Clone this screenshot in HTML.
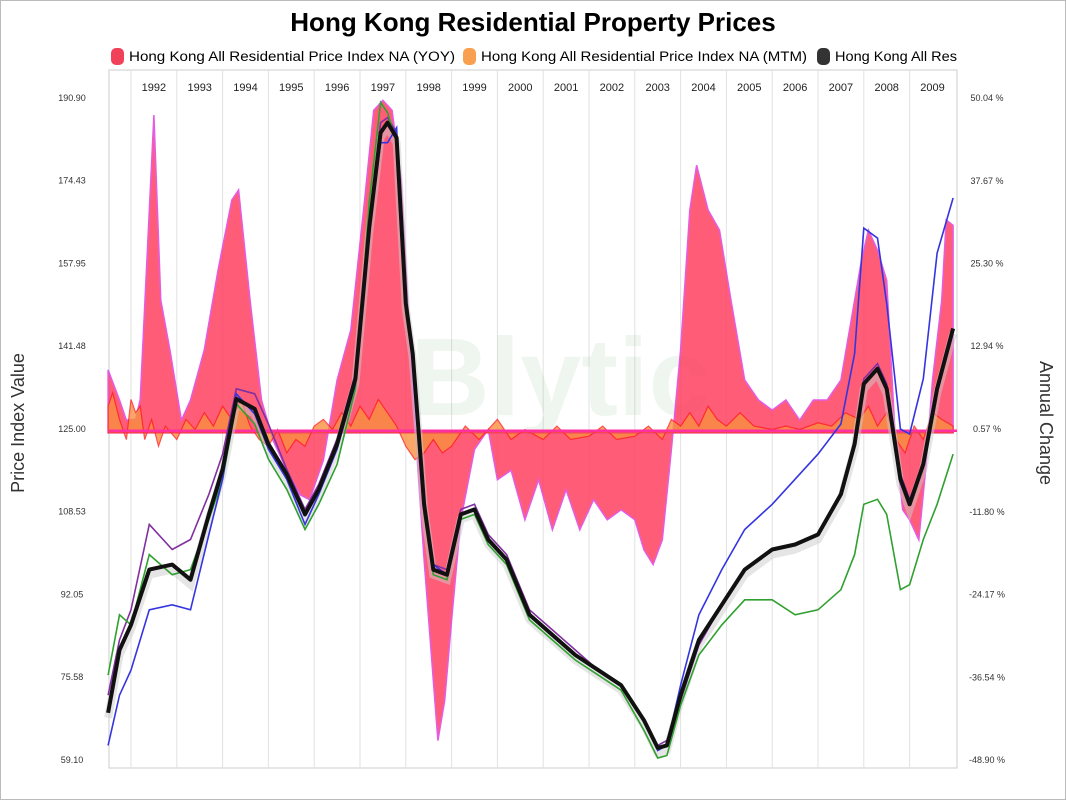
<!DOCTYPE html>
<html><head><meta charset="utf-8"><style>
body{margin:0;background:#fff;}
svg{display:block;font-family:"Liberation Sans",sans-serif;}
</style></head><body>
<svg id="chart" width="1066" height="800" viewBox="0 0 1066 800">
<rect x="0.5" y="0.5" width="1065" height="799" fill="#fff" stroke="#bbb"/>
<text x="533" y="31" text-anchor="middle" font-size="26" font-weight="bold">Hong Kong Residential Property Prices</text>
<g font-size="13.5">
 <g><rect x="111" y="48" width="13" height="17" rx="5" fill="#f0405a"/><text x="129" y="61" textLength="326" lengthAdjust="spacingAndGlyphs">Hong Kong All Residential Price Index NA (YOY)</text></g>
 <g><rect x="463" y="48" width="13" height="17" rx="5" fill="#f8a050"/><text x="481" y="61" textLength="326" lengthAdjust="spacingAndGlyphs">Hong Kong All Residential Price Index NA (MTM)</text></g>
 <g><rect x="817" y="48" width="13" height="17" rx="5" fill="#333"/><text x="835" y="61" textLength="122" lengthAdjust="spacingAndGlyphs">Hong Kong All Res</text></g>
</g>
<text transform="translate(24,423) rotate(-90)" text-anchor="middle" font-size="18" fill="#333">Price Index Value</text>
<text transform="translate(1040,423) rotate(90)" text-anchor="middle" font-size="18" fill="#333">Annual Change</text>
<g id="plot"></g>
</svg>
<script>
const years=[1991.5,1991.75,1992.0,1992.4,1992.9,1993.3,1993.7,1994.0,1994.3,1994.7,1995.0,1995.4,1995.8,1996.1,1996.5,1996.9,1997.2,1997.45,1997.6,1997.8,1998.0,1998.15,1998.4,1998.6,1998.9,1999.2,1999.5,1999.8,2000.2,2000.7,2001.2,2001.7,2002.2,2002.7,2003.2,2003.5,2003.7,2004.0,2004.4,2004.9,2005.4,2006.0,2006.5,2007.0,2007.5,2007.8,2008.0,2008.3,2008.5,2008.8,2009.0,2009.3,2009.6,2009.95];
const indexAll=[68.5,81,86,97,98,95,108,117,131,129,122,116,108,113,122,135,165,184,186,183,150,140,110,97,96,108,109,103,99,88,84,80,77,74,67,61.5,62,72,83,90,97,101,102,104,112,122,134,137,133,115,110,118,133,145];
const indexPurple=[72,83,89,106,101,103,112,120,133,132,126,117,109,114,123,136,166,186,187,184,151,141,111,98,97,109,110,104,100,89,85,81,77,74,67,62,63,71,82,90,97,101,102,104,112,123,135,138,134,116,111,118,133,145];
const indexGreen=[76,88,86,100,96,97,107,115,130,126,119,113,105,110,118,133,170,190,188,182,148,139,108,96,95,107,108,102,98,87,83,79,76,73,65,59.5,60,70,80,86,91,91,88,89,93,100,110,111,108,93,94,103,110,120];
const indexBlue=[62,72,77,89,90,89,104,115,132,128,121,115,106,112,121,134,164,182,182,185,149,140,111,98,96,108,109,103,99,88,84,80,77,74,67,61,62,74,88,97,105,110,115,120,126,140,165,163,150,125,124,135,160,171];
const yoyYears=[1991.5,1991.75,1991.9,1992.1,1992.2,1992.5,1992.65,1992.85,1993.1,1993.3,1993.6,1993.9,1994.2,1994.35,1994.6,1994.85,1995.1,1995.4,1995.7,1995.9,1996.2,1996.5,1996.8,1997.1,1997.3,1997.5,1997.7,1997.9,1998.1,1998.25,1998.4,1998.55,1998.7,1998.85,1999.0,1999.2,1999.5,1999.8,2000.0,2000.3,2000.6,2000.9,2001.2,2001.5,2001.8,2002.1,2002.4,2002.7,2003.0,2003.2,2003.4,2003.6,2003.8,2004.0,2004.2,2004.35,2004.6,2004.85,2005.1,2005.4,2005.7,2006.0,2006.3,2006.6,2006.9,2007.2,2007.5,2007.8,2007.95,2008.1,2008.3,2008.5,2008.7,2008.85,2009.0,2009.2,2009.35,2009.5,2009.7,2009.8,2009.95];
const yoyValues=[9.4,4.9,1.9,2,5,47.5,19.8,12.4,1.9,4.9,12.4,24.3,34.8,36.3,19.8,4.9,-1.1,-5.6,-9.3,-10,-4.1,7.9,15.4,34.8,48.2,49.7,48.2,37.8,12.4,-4.1,-19,-32.5,-46,-40,-28,-13,-2.5,0.5,-7,-5.6,-13,-7,-14.5,-8.5,-14.5,-10,-13,-11.5,-13,-17.5,-19.7,-16,-2.5,12.4,33.3,40,33.3,30.3,19.8,7.9,4.9,3.4,4.9,1.9,4.9,4.9,7.9,19.8,25.8,30.3,27.3,22.8,-2.5,-11.5,-13,-16,-5.6,7.9,19.8,31.8,31];
const mtmYears=[1991.5,1991.6,1991.75,1991.9,1992.0,1992.1,1992.2,1992.3,1992.45,1992.6,1992.75,1993.0,1993.2,1993.4,1993.6,1993.8,1994.0,1994.2,1994.4,1994.6,1994.8,1995.0,1995.2,1995.4,1995.6,1995.8,1996.0,1996.2,1996.4,1996.6,1996.8,1997.0,1997.2,1997.4,1997.6,1997.8,1998.0,1998.2,1998.4,1998.6,1998.8,1999.0,1999.3,1999.6,2000,2000.3,2000.6,2001,2001.3,2001.6,2002,2002.3,2002.6,2003,2003.3,2003.6,2003.8,2004.0,2004.2,2004.4,2004.6,2004.8,2005.0,2005.3,2005.6,2006,2006.3,2006.6,2007,2007.3,2007.6,2007.9,2008.1,2008.3,2008.5,2008.7,2008.9,2009.1,2009.3,2009.5,2009.7,2009.95];
const mtmValues=[4,6,2,-1,5,3,4,-1,2,-2,1,-1,2,0.5,3,1,4,2,5,1,-1,-2,0.5,-3,-1,-2,1,2,0.5,3,1,4,2,5,3,1,-2,-4,-3,-1,-3,-2,1,-1,2,-1,0.5,-1,1,-1,-0.5,1,-1,-0.5,1,-1,2,1,3,1,4,2,1,3,1,0.5,1,0.5,1.5,1,3,2,4,1,3,-1,-3,1,-1,3,2,1];
const yearLabels=["1992","1993","1994","1995","1996","1997","1998","1999","2000","2001","2002","2003","2004","2005","2006","2007","2008","2009"];
const leftTicks=["190.90","174.43","157.95","141.48","125.00","108.53","92.05","75.58","59.10"];
const rightTicks=["50.04 %","37.67 %","25.30 %","12.94 %","0.57 %","-11.80 %","-24.17 %","-36.54 %","-48.90 %"];

const X0=109,X1=957,Y0=70,Y1=768;
const xS=yr=>131+(yr-1992)*45.8;
const yL=v=>98+(190.9-v)*(662/131.8);
const yR=p=>98+(50.04-p)*(662/98.94);
const NS="http://www.w3.org/2000/svg";
const plot=document.getElementById('plot');
function mk(t,a,parent){const e=document.createElementNS(NS,t);for(const k in a)e.setAttribute(k,a[k]);(parent||plot).appendChild(e);return e;}

const frame=mk('rect',{x:X0,y:Y0,width:X1-X0,height:Y1-Y0,fill:'#fff',stroke:'#ccc'});


yearLabels.forEach((lab,i)=>{
  const gx=xS(1992+i);
  const g=mk('line',{x1:gx,y1:Y0,x2:gx,y2:Y1,stroke:'#e2e2e2'});
  
  
  const t=mk('text',{x:xS(1992.5+i),y:91,'text-anchor':'middle','font-size':11,fill:'#222'});
  t.textContent=lab;
  
  
});
leftTicks.forEach(s=>{
  const t=mk('text',{x:72,y:yL(parseFloat(s))+3,'text-anchor':'middle','font-size':9,fill:'#333'});
  t.textContent=s;
  
  
});
rightTicks.forEach(s=>{
  const t=mk('text',{x:987,y:yR(parseFloat(s))+3,'text-anchor':'middle','font-size':9,fill:'#333'});
  t.textContent=s;
  
  
});
const wm=mk('text',{x:560,y:415,'text-anchor':'middle','font-size':110,'font-weight':'bold',fill:'#2a8a2a',opacity:0.07});
wm.textContent='Blytic';



function area(xs,vs){let d=`M${xS(xs[0])},${yR(0)}`;xs.forEach((x,i)=>d+=`L${xS(x).toFixed(1)},${yR(vs[i]).toFixed(1)}`);d+=`L${xS(xs[xs.length-1])},${yR(0)}Z`;return d;}
function line(xs,vs,f){return xs.map((x,i)=>(i?'L':'M')+xS(x).toFixed(1)+','+f(vs[i]).toFixed(1)).join('');}

const yoy=mk('path',{d:area(yoyYears,yoyValues),fill:'#ff4060',opacity:0.85,stroke:'#e040e0','stroke-width':1.5});


const mtm=mk('path',{d:area(mtmYears,mtmValues),fill:'#f89040',opacity:0.8,stroke:'#ff2020','stroke-width':1.2});


const zl=mk('line',{x1:X0,y1:yR(0.3),x2:X1,y2:yR(0.3),stroke:'#ff30a0','stroke-width':2.5});



const sh=mk('path',{d:line(years,indexAll,v=>yL(v)+5),fill:'none',stroke:'#ccc',opacity:0.5,'stroke-width':8});


[['#8030a0',indexPurple,'index-purple-line'],['#30a030',indexGreen,'index-green-line'],['#3535e0',indexBlue,'index-blue-line']].forEach(([c,vs,n])=>{
  const p=mk('path',{d:line(years,vs,yL),fill:'none',stroke:c,'stroke-width':1.6});
  
  
});
const main=mk('path',{d:line(years,indexAll,yL),fill:'none',stroke:'#111','stroke-width':4,'stroke-linejoin':'round'});


</script>
</body></html>
